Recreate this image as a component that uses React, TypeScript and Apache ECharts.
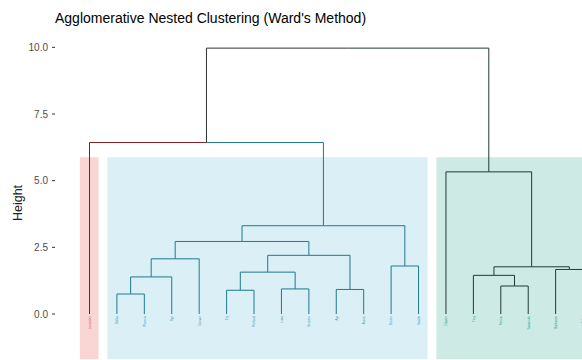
import React, { useEffect, useRef } from "react";
import * as echarts from "echarts";

// Leaves in dendrogram order and the cluster each one belongs to
const leafLabels = [
  "Lancaster", "Dallas", "Phoenix", "Rye", "Denver", "Ely", "Portland", "Lima",
  "Houston", "Ayr", "Austin", "Boston", "Seattle", "Dayton", "Troy", "Fresno",
  "Savannah", "Baltimore", "Tulsa",
];
const leafCluster = [0, 1, 1, 1, 1, 1, 1, 1, 1, 1, 1, 1, 1, 2, 2, 2, 2, 2, 2];

// Merge steps (negative = leaf number, positive = earlier merge number) and heights
const mergeLeft = [-2, 1, 2, -6, -8, 4, -10, 6, 3, -12, 9, -1, -16, -15, -18, 14, -14, 12];
const mergeRight = [-3, -4, -5, -7, -9, 5, -11, 7, 8, -13, 10, 11, -17, 13, -19, 15, 16, 17];
const mergeHeight = [0.75, 1.39, 2.07, 0.89, 0.94, 1.57, 0.92, 2.2, 2.72, 1.8, 3.31, 6.43, 1.05, 1.45, 1.67, 1.77, 5.33, 9.97];

const yTicks = [0, 2.5, 5, 7.5, 10];

const chartTitle = "Agglomerative Nested Clustering (Ward's Method)";
const yTitle = "Height";

const clusterLine = ["#7a1f25", "#1f7a8a", "#1f3a33"];
const clusterLabel = ["#c86a70", "#4a9fbc", "#2f9c92"];
const clusterFill = ["#f9d6d3", "#dbeff6", "#cdebe4"];
const rootLine = "#333333";
const FONT = "'Liberation Sans', Arial, sans-serif";

// layout constants
const GRID_LEFT = 55;
const GRID_TOP = 34;
const WIDTH = 582;
const HEIGHT = 360;
const LEAF1_PX = 89.5;
const PX_PER_LEAF = 27.42;
const RECT_TOP = 5.88;
const RECT_BOTTOM = -1.7;
const RECT_PAD_L = 0.35;
const RECT_PAD_R = 0.33;
const TICK_LEN = 3;

type Node = { x: number; h: number; c: number };

function buildTree() {
  const nodes: Node[] = [];
  const leaf = (i: number): Node => ({ x: i, h: 0, c: leafCluster[i - 1] });
  const get = (ref: number): Node => (ref < 0 ? leaf(-ref) : nodes[ref - 1]);
  const segs: { x1: number; y1: number; x2: number; y2: number; color: string }[] = [];
  mergeHeight.forEach((h, j) => {
    const a = get(mergeLeft[j]);
    const b = get(mergeRight[j]);
    const x = (a.x + b.x) / 2;
    const c = a.c === b.c ? a.c : -1;
    [a, b].forEach((ch) => {
      const color = ch.c >= 0 ? clusterLine[ch.c] : rootLine;
      segs.push({ x1: ch.x, y1: ch.h, x2: ch.x, y2: h, color });
      segs.push({ x1: ch.x, y1: h, x2: x, y2: h, color });
    });
    nodes.push({ x, h, c });
  });
  return segs;
}

export default function App() {
  const ref = useRef<HTMLDivElement>(null);

  useEffect(() => {
    if (!ref.current) return;
    const chart = echarts.init(ref.current, undefined, { renderer: "svg" });
    const segs = buildTree();

    const clusters = [0, 1, 2].map((c) => {
      const idx = leafCluster.map((v, i) => (v === c ? i + 1 : -1)).filter((v) => v > 0);
      return [Math.min(...idx) - RECT_PAD_L, Math.max(...idx) + RECT_PAD_R, RECT_TOP, RECT_BOTTOM, c];
    });

    const xMin = 1 - (LEAF1_PX - GRID_LEFT) / PX_PER_LEAF;
    const xMax = 1 + (WIDTH - LEAF1_PX) / PX_PER_LEAF;

    chart.setOption({
      animation: false,
      grid: { left: GRID_LEFT, right: 0, top: GRID_TOP, bottom: 0 },
      xAxis: { type: "value", min: xMin, max: xMax, show: false },
      yAxis: {
        type: "value",
        min: -1.725,
        max: 10.5,
        axisLine: { show: false },
        splitLine: { show: false },
        axisTick: { show: false },
        axisLabel: {
          customValues: yTicks,
          formatter: (v: number) => v.toFixed(1),
          fontSize: 10,
          color: "#4d4d4d",
          fontFamily: FONT,
          margin: 7,
        },
      },
      graphic: [
        {
          type: "text",
          x: 55,
          y: 18,
          style: { text: chartTitle, fill: "#000", font: `14px ${FONT}`, verticalAlign: "middle" },
        },
        {
          type: "text",
          x: 18,
          y: 203,
          rotation: Math.PI / 2,
          style: { text: yTitle, fill: "#222", font: `12.5px ${FONT}`, align: "center", verticalAlign: "middle" },
        },
      ],
      series: [
        {
          // y-axis tick marks just left of the panel
          type: "custom",
          z: 1,
          data: yTicks.map((v) => [0, v]),
          encode: { y: 1 },
          renderItem: (params: any, api: any) => {
            const p = api.coord([xMin, api.value(1)]);
            return {
              type: "line",
              shape: { x1: p[0] - TICK_LEN, y1: p[1], x2: p[0], y2: p[1] },
              style: { stroke: "#333", lineWidth: 1 },
            };
          },
        },
        {
          type: "custom",
          z: 1,
          data: clusters,
          encode: { x: [0, 1], y: [2, 3] },
          renderItem: (params: any, api: any) => {
            const p1 = api.coord([api.value(0), api.value(2)]);
            const p2 = api.coord([api.value(1), api.value(3)]);
            return {
              type: "rect",
              shape: { x: p1[0], y: p1[1], width: p2[0] - p1[0], height: p2[1] - p1[1] },
              style: { fill: clusterFill[api.value(4)] },
            };
          },
        },
        {
          type: "custom",
          z: 2,
          data: segs.map((s) => [s.x1, s.y1, s.x2, s.y2]),
          encode: { x: [0, 2], y: [1, 3] },
          renderItem: (params: any, api: any) => {
            const p1 = api.coord([api.value(0), api.value(1)]);
            const p2 = api.coord([api.value(2), api.value(3)]);
            return {
              type: "line",
              shape: { x1: p1[0], y1: p1[1], x2: p2[0], y2: p2[1] },
              style: { stroke: segs[params.dataIndex].color, lineWidth: 1 },
            };
          },
        },
        {
          type: "custom",
          z: 3,
          data: leafLabels.map((_, i) => [i + 1, 0]),
          encode: { x: 0, y: 1 },
          renderItem: (params: any, api: any) => {
            const p = api.coord([api.value(0), api.value(1)]);
            const i = params.dataIndex;
            return {
              type: "text",
              x: p[0],
              y: p[1] + 2,
              rotation: Math.PI / 2,
              style: {
                text: leafLabels[i],
                font: `3px ${FONT}`,
                fill: clusterLabel[leafCluster[i]],
                align: "right",
                verticalAlign: "middle",
              },
            };
          },
        },
      ],
    });
    return () => chart.dispose();
  }, []);

  return (
    <div
      ref={ref}
      style={{ position: "absolute", left: 0, top: 0, width: WIDTH, height: HEIGHT, background: "#fff" }}
    />
  );
}
